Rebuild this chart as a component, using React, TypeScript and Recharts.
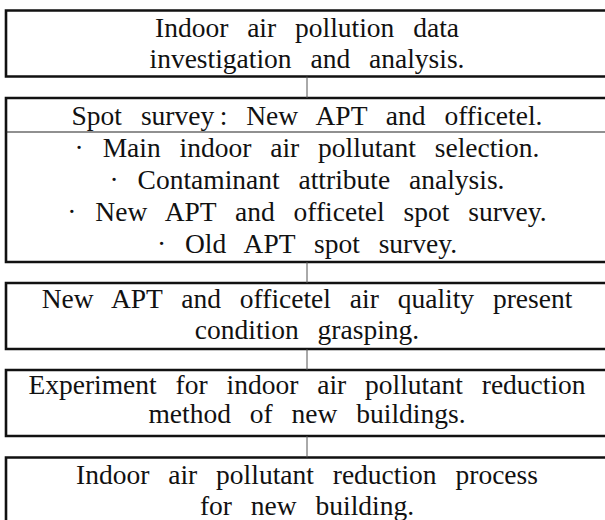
import React from "react";
import {
  ScatterChart,
  Scatter,
  XAxis,
  YAxis,
  ReferenceArea,
  ReferenceLine,
} from "recharts";

// ---- Flowchart text (data) ----
const step1Lines = ["Indoor air pollution data", "investigation and analysis."];
const step2Header = ["Spot survey\u2009: New APT and officetel."];
const step2Items = [
  "\u00B7 Main indoor air pollutant selection.",
  "\u00B7 Contaminant attribute analysis.",
  "\u00B7 New APT and officetel spot survey.",
  "\u00B7 Old APT spot survey.",
];
const step3Lines = ["New APT and officetel air quality present", "condition grasping."];
const step4Lines = ["Experiment for indoor air pollutant reduction", "method of new buildings."];
const step5Lines = ["Indoor air pollutant reduction process", "for new building."];

// ---- Layout (chart coordinate space 0..605 x 0..520) ----
const W = 605;
const H = 520;
const CX = 307;
const LEFT = 6;
const RIGHT = 609;

const boxes = [
  { top: 10.5, bottom: 76.5, lines: step1Lines, baselines: [37, 68] },
  {
    top: 98,
    bottom: 262,
    lines: [...step2Header, ...step2Items],
    baselines: [125, 157, 189, 221, 253],
    divider: 132,
  },
  { top: 283, bottom: 349, lines: step3Lines, baselines: [308, 339] },
  { top: 370, bottom: 436, lines: step4Lines, baselines: [394, 423] },
  { top: 457.5, bottom: 540, lines: step5Lines, baselines: [484, 515] },
];

const textPoints = boxes.flatMap((b) =>
  b.lines.map((t, i) => ({ x: CX, y: b.baselines[i], text: t }))
);

const renderText = (props: any) => {
  const { cx, cy, payload } = props;
  return (
    <text
      x={cx}
      y={cy}
      textAnchor="middle"
      fontFamily="Liberation Serif"
      fontSize={27.5}
      fill="#111"
      style={{ fontFamily: "Liberation Serif", fontSize: 27.5, wordSpacing: "12px" }}
    >
      {payload.text}
    </text>
  );
};

export default function App() {
  return (
    <div
      style={{
        position: "absolute",
        left: 0,
        top: 0,
        width: W,
        height: H,
        background: "#fff",
      }}
    >
      <ScatterChart
        width={W}
        height={H}
        margin={{ top: 0, right: 0, bottom: 0, left: 0 }}
      >
        <XAxis type="number" dataKey="x" domain={[0, W]} hide allowDataOverflow />
        <YAxis
          type="number"
          dataKey="y"
          domain={[0, H]}
          reversed
          hide
          allowDataOverflow
        />
        {boxes.map((b, i) => (
          <ReferenceArea
            key={"box" + i}
            x1={LEFT}
            x2={RIGHT}
            y1={b.top}
            y2={b.bottom}
            fill="none"
            fillOpacity={0}
            stroke="#111"
            strokeWidth={2.6}
            ifOverflow="visible"
          />
        ))}
        {boxes
          .filter((b) => b.divider !== undefined)
          .map((b, i) => (
            <ReferenceLine
              key={"div" + i}
              segment={[
                { x: LEFT, y: b.divider as number },
                { x: RIGHT, y: b.divider as number },
              ]}
              stroke="#222"
              strokeWidth={1.2}
              ifOverflow="visible"
            />
          ))}
        {boxes.slice(0, -1).map((b, i) => (
          <ReferenceLine
            key={"conn" + i}
            segment={[
              { x: CX, y: b.bottom },
              { x: CX, y: boxes[i + 1].top },
            ]}
            stroke="#555"
            strokeWidth={1}
            ifOverflow="visible"
          />
        ))}
        <Scatter
          data={textPoints}
          shape={renderText}
          isAnimationActive={false}
        />
      </ScatterChart>
    </div>
  );
}
